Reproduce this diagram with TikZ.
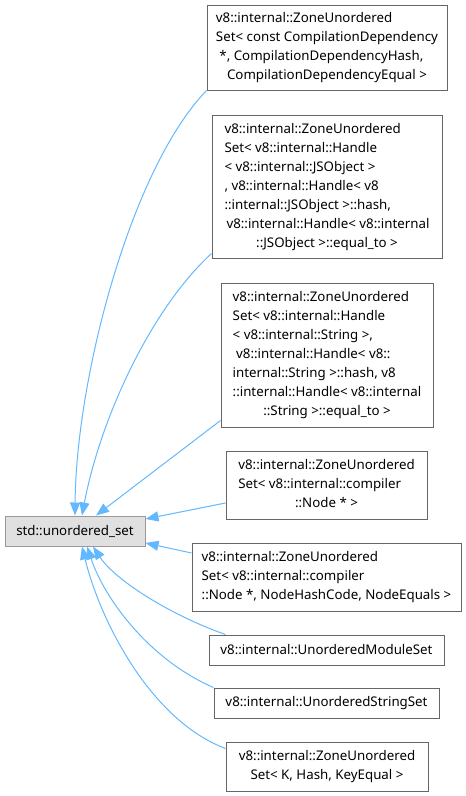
\documentclass[tikz,border=0pt]{standalone}
\usepackage{fontspec}
\setmainfont{Noto Sans}
\usetikzlibrary{arrows.meta}
\definecolor{edgeblue}{HTML}{63B8FF}
\definecolor{boxgray}{HTML}{666666}
\definecolor{basefill}{HTML}{E0E0E0}
\definecolor{basedraw}{HTML}{999999}
\newcommand{\lbl}[2]{\begin{tabular}{@{}l@{}}#1\\\multicolumn{1}{@{}c@{}}{#2}\end{tabular}}
\begin{document}
\begin{tikzpicture}[x=1pt,y=-1pt,
  cls/.style={draw=boxgray, line width=1pt, fill=white, inner sep=0pt, rectangle,
    font=\fontsize{13.3}{19}\selectfont},
  basecls/.style={cls, draw=basedraw, fill=basefill},
  inh/.style={draw=edgeblue, line width=1pt, -{Triangle[length=13pt,width=10pt]}}]
\useasboundingbox (0,0) rectangle (466,796);

\node[basecls, minimum width=140pt, minimum height=30pt] (std) at (75,531) {std::unordered\_set};

\node[cls, minimum width=240pt, minimum height=85pt] (b1) at (327,47.5)
  {\lbl{v8::internal::ZoneUnordered\\Set< const CompilationDependency\\\hspace*{0.26em}*, CompilationDependencyHash,}{CompilationDependencyEqual >}};

\node[cls, minimum width=230pt, minimum height=143pt] (b2) at (327,186.5)
  {\lbl{v8::internal::ZoneUnordered\\Set< v8::internal::Handle\\< v8::internal::JSObject >\\, v8::internal::Handle< v8\\::internal::JSObject >::hash,\\\hspace*{0.15em}v8::internal::Handle< v8::internal}{::JSObject >::equal\_to >}};

\node[cls, minimum width=212pt, minimum height=144pt] (b3) at (327,355)
  {\lbl{v8::internal::ZoneUnordered\\Set< v8::internal::Handle\\< v8::internal::String >,\\\hspace*{0.26em}v8::internal::Handle< v8::\\internal::String >::hash, v8\\::internal::Handle< v8::internal}{::String >::equal\_to >}};

\node[cls, minimum width=201pt, minimum height=68pt] (b4) at (326.5,485)
  {\lbl{v8::internal::ZoneUnordered\\Set< v8::internal::compiler}{::Node * >}};

\node[cls, minimum width=269pt, minimum height=68pt] (b5) at (326.5,577)
  {\lbl{v8::internal::ZoneUnordered\\Set< v8::internal::compiler}{::Node *, NodeHashCode, NodeEquals >}};

\node[cls, minimum width=235pt, minimum height=30pt] (b6) at (326.5,650) {v8::internal::UnorderedModuleSet};

\node[cls, minimum width=225pt, minimum height=30pt] (b7) at (326.5,703) {v8::internal::UnorderedStringSet};

\node[cls, minimum width=202pt, minimum height=49pt] (b8) at (327,766.5)
  {\lbl{v8::internal::ZoneUnordered}{Set< K, Hash, KeyEqual >}};

\draw[inh] (b1.south west) .. controls (130,170) and (76,380) .. (std.north);
\draw[inh] ([yshift=5pt]b2.south west) .. controls (150,310) and (100,420) .. ([xshift=7pt]std.north);
\draw[inh] ([yshift=7pt]b3.south west) -- ([xshift=21pt]std.north);
\draw[inh] ([yshift=-18pt]b4.west) -- ([yshift=12pt]std.east);
\draw[inh] ([yshift=24pt]b5.west) -- ([yshift=-12pt]std.east);
\draw[inh] ([xshift=17pt]b6.north west) .. controls (170,615) and (115,580) .. ([xshift=18pt]std.south);
\draw[inh] (b7.north west) .. controls (150,660) and (105,600) .. ([xshift=12pt]std.south);
\draw[inh] ([yshift=18pt]b8.west) .. controls (150,720) and (100,620) .. ([xshift=7pt]std.south);
\end{tikzpicture}
\end{document}
